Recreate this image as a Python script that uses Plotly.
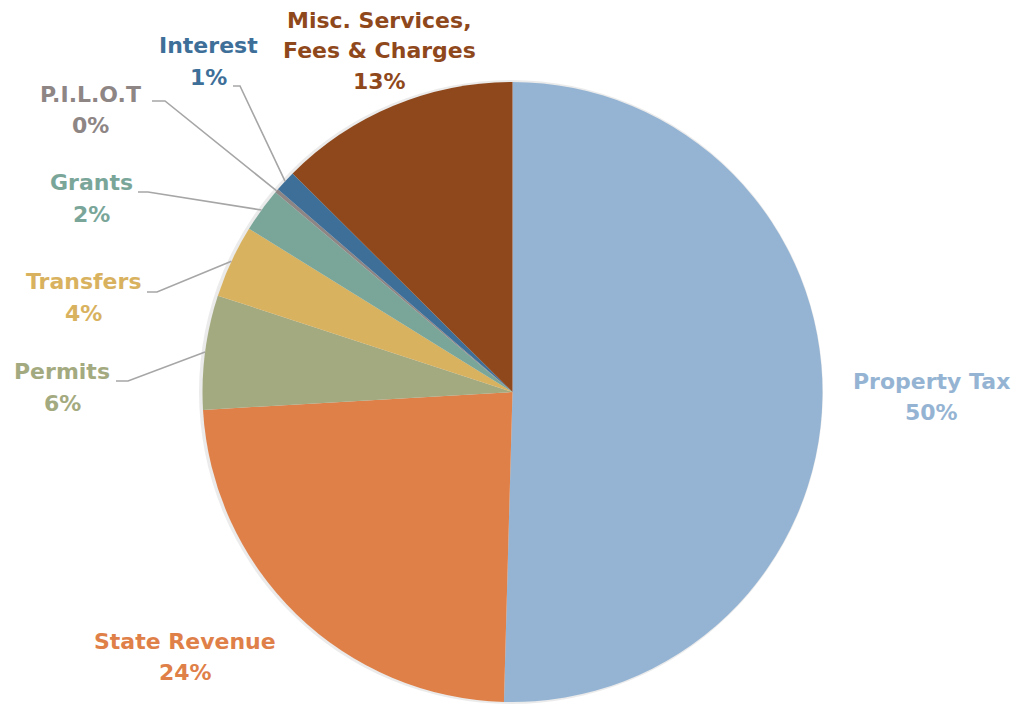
import math
import plotly.graph_objects as go

# ---- data ----
categories = ["Property Tax", "State Revenue", "Permits", "Transfers", "Grants",
              "P.I.L.O.T", "Interest", "Misc. Services,<br>Fees & Charges"]
values = [50.44, 23.64, 5.95, 3.80, 2.31, 0.20, 1.11, 12.55]
colors = ["#95B4D3", "#DF8049", "#A4AA80", "#D9B25F", "#7AA69A",
          "#8E8585", "#3E6F99", "#8F481B"]
label_colors = ["#95B4D3", "#DF8049", "#A4AA80", "#D9B25F", "#7AA69A",
                "#8E8585", "#3E6F99", "#8F481B"]

W, H = 1019, 704
CX, CY, R = 512.5, 392.0, 310.0
FONT = "DejaVu Sans"
FS = 22
LINE_GAP = 31

fig = go.Figure()

# soft shadow
SR = R + 2
SCX, SCY = CX - 1.5, CY
fig.add_trace(go.Pie(
    values=[1], marker=dict(colors=["rgba(0,0,0,0.08)"], line=dict(width=0)),
    textinfo="none", hoverinfo="skip", showlegend=False, sort=False,
    domain=dict(x=[(SCX - SR) / W, (SCX + SR) / W],
                y=[max(0, (H - (SCY + SR)) / H), min(1, (H - (SCY - SR)) / H)]),
))

fig.add_trace(go.Pie(
    labels=categories, values=values, sort=False, direction="clockwise",
    rotation=0, marker=dict(colors=colors, line=dict(width=0)),
    textinfo="none", showlegend=False,
    domain=dict(x=[(CX - R) / W, (CX + R) / W], y=[(H - (CY + R)) / H, (H - (CY - R)) / H]),
))

total = sum(values)
# label placement: pixel coords of centre of the first text line
label_pos = [(931, 381), (185, 641), (62, 372), (83, 282), (91, 183), (90, 94), (208, 46), (379, 20)]
elbows = [None, None, ((116, 381), (128, 381)), ((147, 292), (157, 292)),
          ((138, 192), (148, 192)), ((152, 101), (165, 101)), ((233, 86), (240, 86)), None]

def px_to_paper(x, y):
    return x / W, (H - y) / H

cum = 0.0
for i, (cat, v) in enumerate(zip(categories, values)):
    mid = (cum + v / 2) / total * 2 * math.pi
    cum += v
    ex, ey = CX + R * math.sin(mid), CY - R * math.cos(mid)
    pct = f"{v / total:.0%}"
    lines = cat.split("<br>") + [pct]
    lx, ly = label_pos[i]
    for k, line in enumerate(lines):
        ax, ay = px_to_paper(lx, ly + k * LINE_GAP)
        fig.add_annotation(
            x=ax, y=ay, xref="paper", yref="paper", showarrow=False,
            text=line, align="center",
            font=dict(family=FONT, size=FS, color=label_colors[i], weight="bold"),
            xanchor="center", yanchor="middle",
        )
    if elbows[i] is not None:
        (x0, y0), (x1, y1) = elbows[i]
        p0 = px_to_paper(x0, y0)
        p1 = px_to_paper(x1, y1)
        p2 = px_to_paper(ex, ey)
        fig.add_shape(type="path", xref="paper", yref="paper",
                      path=f"M {p0[0]} {p0[1]} L {p1[0]} {p1[1]} L {p2[0]} {p2[1]}",
                      line=dict(color="#A6A6A6", width=1.6))

fig.update_layout(
    width=W, height=H, margin=dict(l=0, r=0, t=0, b=0),
    paper_bgcolor="white", plot_bgcolor="white",
)

fig.write_html("out.html", config={"displayModeBar": False},
               post_script="document.body.style.margin='0';document.body.style.overflow='hidden';")
